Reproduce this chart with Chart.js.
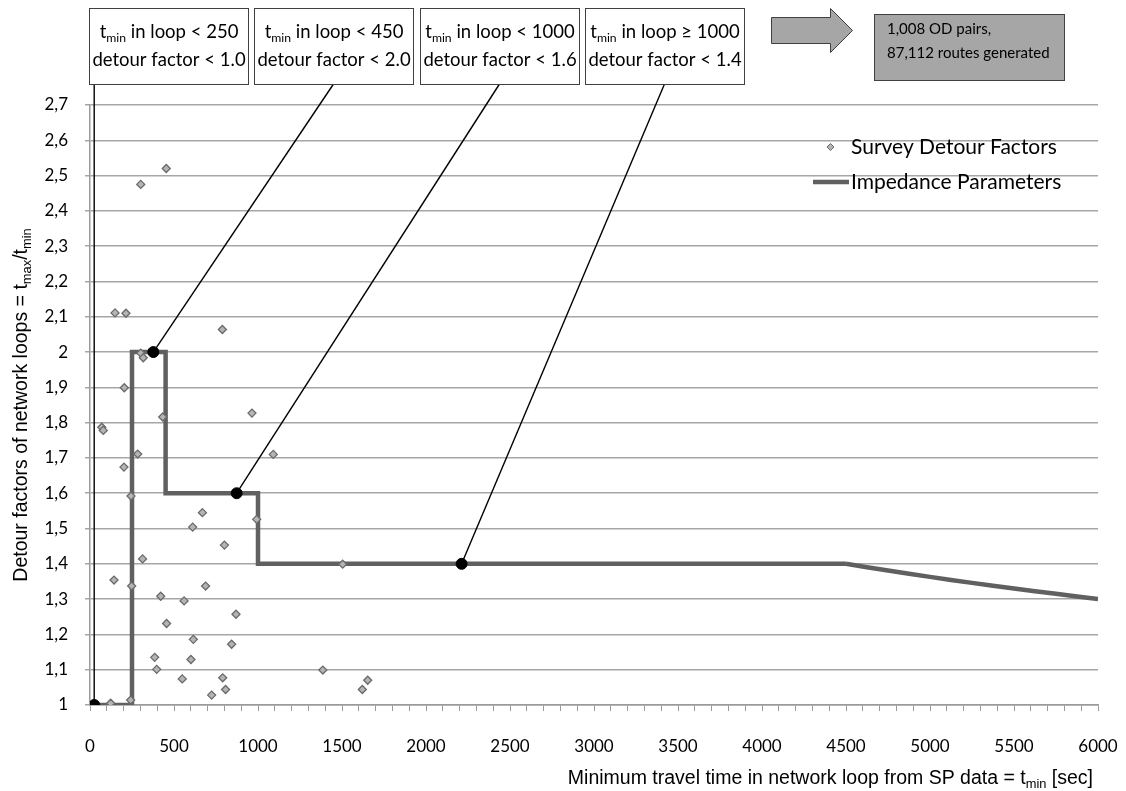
<!DOCTYPE html>
<html>
<head>
<meta charset="utf-8">
<script src="https://cdn.jsdelivr.net/npm/chart.js@4.4.1/dist/chart.umd.min.js"></script>
<style>
  html, body { margin: 0; padding: 0; background: #fff; }
</style>
</head>
<body>
<canvas id="grafico" width="1126" height="791"></canvas>
<script>
// survey detour factors (t_min in sec, factor)
const surveyTmin = [70, 79, 123, 143, 149, 202, 204, 214, 242, 244, 248, 284, 302, 302, 313, 317,
  385, 397, 421, 433, 454, 456, 549, 560, 601, 611, 615, 669, 688, 724, 788, 790, 800, 807, 843,
  869, 964, 992, 1091, 1386, 1504, 1621, 1653];
const surveyFactor = [1.787, 1.778, 1.005, 1.354, 2.111, 1.674, 1.899, 2.11, 1.014, 1.592, 1.337, 1.711,
  2.475, 1.997, 1.414, 1.984, 1.135, 1.101, 1.308, 1.816, 2.52, 1.231, 1.074, 1.295, 1.129, 1.504,
  1.186, 1.545, 1.337, 1.028, 2.064, 1.077, 1.453, 1.044, 1.172, 1.257, 1.827, 1.526, 1.71, 1.099,
  1.399, 1.044, 1.07];

// impedance parameters: steps, then the falling curve after 4500 sec
const impTmin = [0, 250, 250, 450, 450, 1000, 1000, 4500];
const impFactor = [1.0, 1.0, 2.0, 2.0, 1.6, 1.6, 1.4, 1.4];
const curveTmin = [4500, 4750, 5000, 5250, 5500, 5750, 6000];
const curveFactor = [1.4, 1.381, 1.363, 1.346, 1.330, 1.315, 1.300];

// callout points and their texts
const calloutTmin = [25, 377, 873, 2212];
const calloutFactor = [1.0, 2.0, 1.6, 1.4];
const calloutLine1 = ['t_{min} in loop < 250', 't_{min} in loop < 450', 't_{min} in loop < 1000', 't_{min} in loop \u2265 1000'];
const calloutLine2 = ['detour factor < 1.0', 'detour factor < 2.0', 'detour factor < 1.6', 'detour factor < 1.4'];
const resultText = ['1,008 OD pairs,', '87,112 routes generated'];

// axes
const xTicks = [0, 500, 1000, 1500, 2000, 2500, 3000, 3500, 4000, 4500, 5000, 5500, 6000];
const xMinorTicks = Array.from({length: 61}, (_, i) => i * 100);
const yTicks = [1, 1.1, 1.2, 1.3, 1.4, 1.5, 1.6, 1.7, 1.8, 1.9, 2, 2.1, 2.2, 2.3, 2.4, 2.5, 2.6, 2.7];
const yTickLabels = ['1', '1,1', '1,2', '1,3', '1,4', '1,5', '1,6', '1,7', '1,8', '1,9', '2', '2,1', '2,2', '2,3', '2,4', '2,5', '2,6', '2,7'];
const xTitle = 'Minimum travel time in network loop from SP data = t_{min} [sec]';
const yTitle = 'Detour factors of network loops = t_{max}/t_{min}';

const FONT = 'Lato';
const ARIAL = '"Liberation Sans", Arial';
const LINE_GREY = '#606060';

// text with t_{sub} subscripts
function partes(str) {
    const out = [];
    const re = /_\{([^}]*)\}/g;
    let last = 0, m;
    while ((m = re.exec(str))) {
        if (m.index > last) out.push({t: str.slice(last, m.index)});
        out.push({t: m[1], sub: true});
        last = re.lastIndex;
    }
    if (last < str.length) out.push({t: str.slice(last)});
    return out;
}

function textoRico(ctx, str, x, y, align, size, family) {
    const ps = partes(str);
    let w = 0;
    ps.forEach(p => {
        ctx.font = (p.sub ? size * 0.66 : size) + 'px ' + family;
        p.w = ctx.measureText(p.t).width;
        w += p.w;
    });
    let cx = align == 'center' ? x - w / 2 : (align == 'right' ? x - w : x);
    ctx.textAlign = 'left';
    ctx.textBaseline = 'alphabetic';
    ps.forEach(p => {
        ctx.font = (p.sub ? size * 0.66 : size) + 'px ' + family;
        ctx.fillText(p.t, cx, p.sub ? y + size * 0.22 : y);
        cx += p.w;
    });
}

// layout of the callout boxes
const boxLeft = [89, 254, 420, 585];
const boxW = 159, boxTop = 8, boxBottom = 84;

const extras = {
    id: 'extras',
    beforeDatasetsDraw(chart) {
        const ctx = chart.ctx, xs = chart.scales.x, ys = chart.scales.y;
        ctx.save();
        ctx.strokeStyle = '#000';
        ctx.lineWidth = 1.4;
        calloutTmin.forEach((t, i) => {
            const px = xs.getPixelForValue(t), py = ys.getPixelForValue(calloutFactor[i]);
            const tx = i == 0 ? px : boxLeft[i] + boxW / 2;
            ctx.beginPath();
            ctx.moveTo(px, py);
            ctx.lineTo(tx, boxBottom);
            ctx.stroke();
        });
        ctx.restore();
    },
    afterDraw(chart) {
        const ctx = chart.ctx;
        ctx.save();
        // callout boxes
        calloutLine1.forEach((l1, i) => {
            ctx.fillStyle = '#fff';
            ctx.fillRect(boxLeft[i], boxTop, boxW, boxBottom - boxTop);
            ctx.strokeStyle = '#404040';
            ctx.lineWidth = 1;
            ctx.strokeRect(boxLeft[i] + 0.5, boxTop + 0.5, boxW, boxBottom - boxTop);
            ctx.fillStyle = '#000';
            const cx = boxLeft[i] + boxW / 2 + 0.5;
            textoRico(ctx, l1, cx, 38, 'center', 18.5, FONT);
            textoRico(ctx, calloutLine2[i], cx, 66, 'center', 18.5, FONT);
        });
        // arrow
        ctx.beginPath();
        ctx.moveTo(771.5, 17.5);
        ctx.lineTo(830.5, 17.5);
        ctx.lineTo(830.5, 8.5);
        ctx.lineTo(852.5, 30.5);
        ctx.lineTo(830.5, 52.5);
        ctx.lineTo(830.5, 43.5);
        ctx.lineTo(771.5, 43.5);
        ctx.closePath();
        ctx.fillStyle = '#a6a6a6';
        ctx.fill();
        ctx.strokeStyle = '#404040';
        ctx.lineWidth = 1;
        ctx.stroke();
        // result box
        ctx.fillStyle = '#a6a6a6';
        ctx.fillRect(874, 14, 190, 66);
        ctx.strokeRect(874.5, 14.5, 190, 66);
        ctx.fillStyle = '#000';
        ctx.font = '15px ' + FONT;
        ctx.textAlign = 'left';
        ctx.textBaseline = 'middle';
        ctx.fillText(resultText[0], 887, 29);
        ctx.fillText(resultText[1], 887, 53);

        // legend
        const ds = chart.data.datasets;
        ctx.font = '21px ' + FONT;
        ctx.fillStyle = '#000';
        ctx.fillText(ds[1].label, 851, 147);
        ctx.fillText(ds[2].label, 851, 182);
        ctx.beginPath();
        ctx.moveTo(830.5, 143.5); ctx.lineTo(834, 147); ctx.lineTo(830.5, 150.5); ctx.lineTo(827, 147);
        ctx.closePath();
        ctx.fillStyle = ds[1].pointBackgroundColor;
        ctx.fill();
        ctx.strokeStyle = ds[1].pointBorderColor;
        ctx.lineWidth = 1;
        ctx.stroke();
        ctx.beginPath();
        ctx.moveTo(813, 182); ctx.lineTo(849, 182);
        ctx.strokeStyle = ds[2].borderColor;
        ctx.lineWidth = ds[2].borderWidth;
        ctx.stroke();

        // axis titles
        ctx.fillStyle = '#000';
        textoRico(ctx, xTitle, 1093, 784, 'right', 19.5, ARIAL);
        ctx.translate(27, chart.chartArea.top + (chart.chartArea.bottom - chart.chartArea.top) / 2);
        ctx.rotate(-Math.PI / 2);
        textoRico(ctx, yTitle, 0, 0, 'center', 19.5, ARIAL);
        ctx.restore();
    }
};

const lineStyle = {
    showLine: true,
    borderColor: LINE_GREY,
    borderWidth: 4.5,
    borderJoinStyle: 'miter',
    pointRadius: 0,
    order: 2
};

const ctx1 = document.getElementById('grafico').getContext('2d');
const grafico = new Chart(ctx1, {
    type: 'scatter',
    data: {
        datasets: [{
            label: 'callouts',
            data: calloutTmin.map((t, i) => ({x: t, y: calloutFactor[i]})),
            pointRadius: 5.5,
            pointBackgroundColor: '#000',
            pointBorderColor: '#000',
            order: 0
        }, {
            label: 'Survey Detour Factors',
            data: surveyTmin.map((t, i) => ({x: t, y: surveyFactor[i]})),
            pointStyle: 'rectRot',
            pointRadius: 4,
            pointBackgroundColor: '#b4b4b4',
            pointBorderColor: '#6a6a6a',
            pointBorderWidth: 1.3,
            order: 1
        }, Object.assign({
            label: 'Impedance Parameters',
            data: impTmin.map((t, i) => ({x: t, y: impFactor[i]})),
            tension: 0
        }, lineStyle), Object.assign({
            label: 'Impedance Parameters (curve)',
            data: curveTmin.map((t, i) => ({x: t, y: curveFactor[i]})),
            tension: 0.4
        }, lineStyle)]
    },
    options: {
        responsive: false,
        animation: false,
        devicePixelRatio: 1,
        layout: { padding: { top: 105, right: 28, left: 0, bottom: 0 } },
        plugins: { legend: { display: false }, tooltip: { enabled: false } },
        scales: {
            x: {
                type: 'linear',
                min: 0,
                max: 6000,
                afterBuildTicks: s => { s.ticks = xMinorTicks.map(v => ({value: v})); },
                afterFit: s => { s.height = 86; s.paddingLeft = 0; s.paddingRight = 0; },
                ticks: {
                    autoSkip: false,
                    maxRotation: 0,
                    padding: 25,
                    color: '#000',
                    font: { family: FONT, size: 17 },
                    callback: v => xTicks.includes(v) ? String(v) : ''
                },
                grid: { drawOnChartArea: false, tickLength: 6, color: '#9a9a9a', lineWidth: 1 },
                border: { color: '#9a9a9a', width: 1.5 }
            },
            y: {
                min: 1,
                max: 2.7,
                afterBuildTicks: s => { s.ticks = yTicks.map(v => ({value: v})); },
                afterFit: s => { s.width = 90; },
                ticks: {
                    autoSkip: false,
                    padding: 17,
                    color: '#000',
                    font: { family: FONT, size: 17 },
                    callback: (v, i) => yTickLabels[i]
                },
                grid: { color: '#a6a6a6', lineWidth: 1.5, tickLength: 5 },
                border: { color: '#9a9a9a', width: 1.5 }
            }
        }
    },
    plugins: [extras]
});
</script>
</body>
</html>
